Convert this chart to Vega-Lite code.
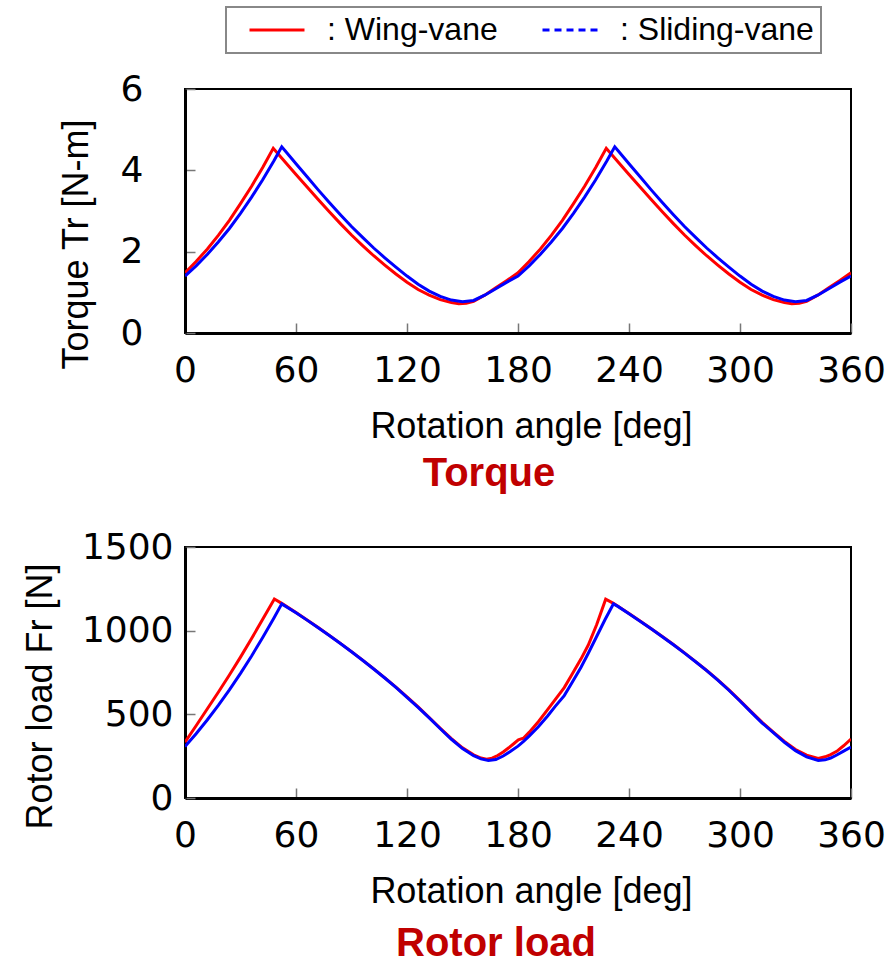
{
  "$schema": "https://vega.github.io/schema/vega-lite/v6.json",
  "background": "white",
  "padding": {"left": 21, "top": 6, "right": 5, "bottom": 2},
  "config": {
    "font": "Liberation Sans",
    "view": {"stroke": "#000", "strokeWidth": 2},
    "axis": {"domainColor": "#000", "domainWidth": 3, "tickColor": "#777", "tickWidth": 1.5, "tickSize": -10, "grid": false, "labelFlush": false,
      "labelFont": "DejaVu Sans", "labelFontSize": 36, "labelColor": "#000",
      "titleFont": "Liberation Sans", "titleFontSize": 36, "titleFontWeight": "normal", "titleColor": "#000"},
    "title": {"orient": "bottom", "color": "#C00000", "fontSize": 40, "fontWeight": "bold", "font": "Liberation Sans"}
  },
  "datasets": {
    "torque": [
      {"vane": "Wing-vane", "angle": 0, "value": 1.48}, {"vane": "Wing-vane", "angle": 6, "value": 1.76}, {"vane": "Wing-vane", "angle": 12, "value": 2.06}, {"vane": "Wing-vane", "angle": 18, "value": 2.40}, {"vane": "Wing-vane", "angle": 24, "value": 2.77}, {"vane": "Wing-vane", "angle": 30, "value": 3.18}, {"vane": "Wing-vane", "angle": 36, "value": 3.61}, {"vane": "Wing-vane", "angle": 42, "value": 4.07}, {"vane": "Wing-vane", "angle": 47.7, "value": 4.54},
      {"vane": "Wing-vane", "angle": 54, "value": 4.21}, {"vane": "Wing-vane", "angle": 60, "value": 3.90}, {"vane": "Wing-vane", "angle": 66, "value": 3.59}, {"vane": "Wing-vane", "angle": 72, "value": 3.28}, {"vane": "Wing-vane", "angle": 78, "value": 2.98}, {"vane": "Wing-vane", "angle": 84, "value": 2.69}, {"vane": "Wing-vane", "angle": 90, "value": 2.41}, {"vane": "Wing-vane", "angle": 96, "value": 2.15}, {"vane": "Wing-vane", "angle": 102, "value": 1.90}, {"vane": "Wing-vane", "angle": 108, "value": 1.67}, {"vane": "Wing-vane", "angle": 114, "value": 1.45}, {"vane": "Wing-vane", "angle": 120, "value": 1.25}, {"vane": "Wing-vane", "angle": 126, "value": 1.07}, {"vane": "Wing-vane", "angle": 132, "value": 0.93}, {"vane": "Wing-vane", "angle": 138, "value": 0.82}, {"vane": "Wing-vane", "angle": 144, "value": 0.75}, {"vane": "Wing-vane", "angle": 148, "value": 0.72}, {"vane": "Wing-vane", "angle": 152, "value": 0.73}, {"vane": "Wing-vane", "angle": 156, "value": 0.78}, {"vane": "Wing-vane", "angle": 162, "value": 0.93}, {"vane": "Wing-vane", "angle": 168, "value": 1.11}, {"vane": "Wing-vane", "angle": 174, "value": 1.29}, {"vane": "Wing-vane", "angle": 180, "value": 1.48},
      {"vane": "Wing-vane", "angle": 186, "value": 1.76}, {"vane": "Wing-vane", "angle": 192, "value": 2.06}, {"vane": "Wing-vane", "angle": 198, "value": 2.40}, {"vane": "Wing-vane", "angle": 204, "value": 2.77}, {"vane": "Wing-vane", "angle": 210, "value": 3.18}, {"vane": "Wing-vane", "angle": 216, "value": 3.61}, {"vane": "Wing-vane", "angle": 222, "value": 4.07}, {"vane": "Wing-vane", "angle": 227.7, "value": 4.54},
      {"vane": "Wing-vane", "angle": 234, "value": 4.21}, {"vane": "Wing-vane", "angle": 240, "value": 3.90}, {"vane": "Wing-vane", "angle": 246, "value": 3.59}, {"vane": "Wing-vane", "angle": 252, "value": 3.28}, {"vane": "Wing-vane", "angle": 258, "value": 2.98}, {"vane": "Wing-vane", "angle": 264, "value": 2.69}, {"vane": "Wing-vane", "angle": 270, "value": 2.41}, {"vane": "Wing-vane", "angle": 276, "value": 2.15}, {"vane": "Wing-vane", "angle": 282, "value": 1.90}, {"vane": "Wing-vane", "angle": 288, "value": 1.67}, {"vane": "Wing-vane", "angle": 294, "value": 1.45}, {"vane": "Wing-vane", "angle": 300, "value": 1.25}, {"vane": "Wing-vane", "angle": 306, "value": 1.07}, {"vane": "Wing-vane", "angle": 312, "value": 0.93}, {"vane": "Wing-vane", "angle": 318, "value": 0.82}, {"vane": "Wing-vane", "angle": 324, "value": 0.75}, {"vane": "Wing-vane", "angle": 328, "value": 0.72}, {"vane": "Wing-vane", "angle": 332, "value": 0.73}, {"vane": "Wing-vane", "angle": 336, "value": 0.78}, {"vane": "Wing-vane", "angle": 342, "value": 0.93}, {"vane": "Wing-vane", "angle": 348, "value": 1.11}, {"vane": "Wing-vane", "angle": 354, "value": 1.29}, {"vane": "Wing-vane", "angle": 360, "value": 1.48},
      {"vane": "Sliding-vane", "angle": 0, "value": 1.40}, {"vane": "Sliding-vane", "angle": 6, "value": 1.65}, {"vane": "Sliding-vane", "angle": 12, "value": 1.93}, {"vane": "Sliding-vane", "angle": 18, "value": 2.24}, {"vane": "Sliding-vane", "angle": 24, "value": 2.57}, {"vane": "Sliding-vane", "angle": 30, "value": 2.94}, {"vane": "Sliding-vane", "angle": 36, "value": 3.34}, {"vane": "Sliding-vane", "angle": 42, "value": 3.77}, {"vane": "Sliding-vane", "angle": 48, "value": 4.23}, {"vane": "Sliding-vane", "angle": 52.3, "value": 4.58},
      {"vane": "Sliding-vane", "angle": 54, "value": 4.49}, {"vane": "Sliding-vane", "angle": 60, "value": 4.16}, {"vane": "Sliding-vane", "angle": 66, "value": 3.84}, {"vane": "Sliding-vane", "angle": 72, "value": 3.52}, {"vane": "Sliding-vane", "angle": 78, "value": 3.21}, {"vane": "Sliding-vane", "angle": 84, "value": 2.91}, {"vane": "Sliding-vane", "angle": 90, "value": 2.62}, {"vane": "Sliding-vane", "angle": 96, "value": 2.35}, {"vane": "Sliding-vane", "angle": 102, "value": 2.09}, {"vane": "Sliding-vane", "angle": 108, "value": 1.85}, {"vane": "Sliding-vane", "angle": 114, "value": 1.62}, {"vane": "Sliding-vane", "angle": 120, "value": 1.40}, {"vane": "Sliding-vane", "angle": 126, "value": 1.20}, {"vane": "Sliding-vane", "angle": 132, "value": 1.03}, {"vane": "Sliding-vane", "angle": 138, "value": 0.90}, {"vane": "Sliding-vane", "angle": 144, "value": 0.81}, {"vane": "Sliding-vane", "angle": 150, "value": 0.77}, {"vane": "Sliding-vane", "angle": 156, "value": 0.80}, {"vane": "Sliding-vane", "angle": 162, "value": 0.93}, {"vane": "Sliding-vane", "angle": 168, "value": 1.09}, {"vane": "Sliding-vane", "angle": 174, "value": 1.25}, {"vane": "Sliding-vane", "angle": 180, "value": 1.40},
      {"vane": "Sliding-vane", "angle": 186, "value": 1.65}, {"vane": "Sliding-vane", "angle": 192, "value": 1.93}, {"vane": "Sliding-vane", "angle": 198, "value": 2.24}, {"vane": "Sliding-vane", "angle": 204, "value": 2.57}, {"vane": "Sliding-vane", "angle": 210, "value": 2.94}, {"vane": "Sliding-vane", "angle": 216, "value": 3.34}, {"vane": "Sliding-vane", "angle": 222, "value": 3.77}, {"vane": "Sliding-vane", "angle": 228, "value": 4.23}, {"vane": "Sliding-vane", "angle": 232.3, "value": 4.58},
      {"vane": "Sliding-vane", "angle": 234, "value": 4.49}, {"vane": "Sliding-vane", "angle": 240, "value": 4.16}, {"vane": "Sliding-vane", "angle": 246, "value": 3.84}, {"vane": "Sliding-vane", "angle": 252, "value": 3.52}, {"vane": "Sliding-vane", "angle": 258, "value": 3.21}, {"vane": "Sliding-vane", "angle": 264, "value": 2.91}, {"vane": "Sliding-vane", "angle": 270, "value": 2.62}, {"vane": "Sliding-vane", "angle": 276, "value": 2.35}, {"vane": "Sliding-vane", "angle": 282, "value": 2.09}, {"vane": "Sliding-vane", "angle": 288, "value": 1.85}, {"vane": "Sliding-vane", "angle": 294, "value": 1.62}, {"vane": "Sliding-vane", "angle": 300, "value": 1.40}, {"vane": "Sliding-vane", "angle": 306, "value": 1.20}, {"vane": "Sliding-vane", "angle": 312, "value": 1.03}, {"vane": "Sliding-vane", "angle": 318, "value": 0.90}, {"vane": "Sliding-vane", "angle": 324, "value": 0.81}, {"vane": "Sliding-vane", "angle": 330, "value": 0.77}, {"vane": "Sliding-vane", "angle": 336, "value": 0.80}, {"vane": "Sliding-vane", "angle": 342, "value": 0.93}, {"vane": "Sliding-vane", "angle": 348, "value": 1.09}, {"vane": "Sliding-vane", "angle": 354, "value": 1.25}, {"vane": "Sliding-vane", "angle": 360, "value": 1.40}
    ],
    "load": [
      {"vane": "Wing-vane", "angle": 0, "value": 333}, {"vane": "Wing-vane", "angle": 6, "value": 432}, {"vane": "Wing-vane", "angle": 12, "value": 532}, {"vane": "Wing-vane", "angle": 18, "value": 632}, {"vane": "Wing-vane", "angle": 24, "value": 735}, {"vane": "Wing-vane", "angle": 30, "value": 842}, {"vane": "Wing-vane", "angle": 36, "value": 953}, {"vane": "Wing-vane", "angle": 42, "value": 1068}, {"vane": "Wing-vane", "angle": 48.3, "value": 1189},
      {"vane": "Wing-vane", "angle": 52.3, "value": 1163}, {"vane": "Wing-vane", "angle": 60, "value": 1108}, {"vane": "Wing-vane", "angle": 66, "value": 1064}, {"vane": "Wing-vane", "angle": 72, "value": 1019}, {"vane": "Wing-vane", "angle": 78, "value": 972}, {"vane": "Wing-vane", "angle": 84, "value": 924}, {"vane": "Wing-vane", "angle": 90, "value": 875}, {"vane": "Wing-vane", "angle": 96, "value": 824}, {"vane": "Wing-vane", "angle": 102, "value": 772}, {"vane": "Wing-vane", "angle": 108, "value": 718}, {"vane": "Wing-vane", "angle": 114, "value": 662}, {"vane": "Wing-vane", "angle": 120, "value": 604}, {"vane": "Wing-vane", "angle": 126, "value": 544}, {"vane": "Wing-vane", "angle": 132, "value": 481}, {"vane": "Wing-vane", "angle": 138, "value": 417}, {"vane": "Wing-vane", "angle": 144, "value": 355}, {"vane": "Wing-vane", "angle": 150, "value": 300}, {"vane": "Wing-vane", "angle": 156, "value": 258}, {"vane": "Wing-vane", "angle": 160, "value": 239}, {"vane": "Wing-vane", "angle": 163, "value": 232}, {"vane": "Wing-vane", "angle": 166, "value": 238}, {"vane": "Wing-vane", "angle": 169, "value": 254}, {"vane": "Wing-vane", "angle": 172, "value": 275}, {"vane": "Wing-vane", "angle": 175, "value": 300}, {"vane": "Wing-vane", "angle": 178, "value": 327}, {"vane": "Wing-vane", "angle": 180.2, "value": 347}, {"vane": "Wing-vane", "angle": 182.9, "value": 357},
      {"vane": "Wing-vane", "angle": 186, "value": 392}, {"vane": "Wing-vane", "angle": 191, "value": 456}, {"vane": "Wing-vane", "angle": 196, "value": 528}, {"vane": "Wing-vane", "angle": 200, "value": 586}, {"vane": "Wing-vane", "angle": 205, "value": 660}, {"vane": "Wing-vane", "angle": 209, "value": 735}, {"vane": "Wing-vane", "angle": 214, "value": 830}, {"vane": "Wing-vane", "angle": 218, "value": 914}, {"vane": "Wing-vane", "angle": 222.5, "value": 1035}, {"vane": "Wing-vane", "angle": 227.4, "value": 1188},
      {"vane": "Wing-vane", "angle": 231.6, "value": 1163}, {"vane": "Wing-vane", "angle": 234, "value": 1146}, {"vane": "Wing-vane", "angle": 240, "value": 1102}, {"vane": "Wing-vane", "angle": 246, "value": 1058}, {"vane": "Wing-vane", "angle": 252, "value": 1012}, {"vane": "Wing-vane", "angle": 258, "value": 965}, {"vane": "Wing-vane", "angle": 264, "value": 917}, {"vane": "Wing-vane", "angle": 270, "value": 867}, {"vane": "Wing-vane", "angle": 276, "value": 815}, {"vane": "Wing-vane", "angle": 282, "value": 762}, {"vane": "Wing-vane", "angle": 288, "value": 706}, {"vane": "Wing-vane", "angle": 294, "value": 646}, {"vane": "Wing-vane", "angle": 300, "value": 582}, {"vane": "Wing-vane", "angle": 306, "value": 516}, {"vane": "Wing-vane", "angle": 312, "value": 452}, {"vane": "Wing-vane", "angle": 318, "value": 394}, {"vane": "Wing-vane", "angle": 324, "value": 338}, {"vane": "Wing-vane", "angle": 330, "value": 290}, {"vane": "Wing-vane", "angle": 336, "value": 256}, {"vane": "Wing-vane", "angle": 342.3, "value": 237}, {"vane": "Wing-vane", "angle": 346, "value": 246}, {"vane": "Wing-vane", "angle": 349, "value": 259}, {"vane": "Wing-vane", "angle": 352.3, "value": 279}, {"vane": "Wing-vane", "angle": 356, "value": 312}, {"vane": "Wing-vane", "angle": 360, "value": 352},
      {"vane": "Sliding-vane", "angle": 0, "value": 307}, {"vane": "Sliding-vane", "angle": 6, "value": 384}, {"vane": "Sliding-vane", "angle": 12, "value": 466}, {"vane": "Sliding-vane", "angle": 18, "value": 553}, {"vane": "Sliding-vane", "angle": 24, "value": 646}, {"vane": "Sliding-vane", "angle": 30, "value": 745}, {"vane": "Sliding-vane", "angle": 36, "value": 849}, {"vane": "Sliding-vane", "angle": 42, "value": 959}, {"vane": "Sliding-vane", "angle": 48, "value": 1074}, {"vane": "Sliding-vane", "angle": 52.3, "value": 1160},
      {"vane": "Sliding-vane", "angle": 60, "value": 1107}, {"vane": "Sliding-vane", "angle": 66, "value": 1063}, {"vane": "Sliding-vane", "angle": 72, "value": 1018}, {"vane": "Sliding-vane", "angle": 78, "value": 971}, {"vane": "Sliding-vane", "angle": 84, "value": 923}, {"vane": "Sliding-vane", "angle": 90, "value": 874}, {"vane": "Sliding-vane", "angle": 96, "value": 823}, {"vane": "Sliding-vane", "angle": 102, "value": 771}, {"vane": "Sliding-vane", "angle": 108, "value": 717}, {"vane": "Sliding-vane", "angle": 114, "value": 661}, {"vane": "Sliding-vane", "angle": 120, "value": 602}, {"vane": "Sliding-vane", "angle": 126, "value": 542}, {"vane": "Sliding-vane", "angle": 132, "value": 479}, {"vane": "Sliding-vane", "angle": 138, "value": 414}, {"vane": "Sliding-vane", "angle": 144, "value": 351}, {"vane": "Sliding-vane", "angle": 150, "value": 295}, {"vane": "Sliding-vane", "angle": 156, "value": 253}, {"vane": "Sliding-vane", "angle": 160, "value": 234}, {"vane": "Sliding-vane", "angle": 164, "value": 224}, {"vane": "Sliding-vane", "angle": 168, "value": 230}, {"vane": "Sliding-vane", "angle": 172, "value": 251}, {"vane": "Sliding-vane", "angle": 176, "value": 279}, {"vane": "Sliding-vane", "angle": 180, "value": 310},
      {"vane": "Sliding-vane", "angle": 183, "value": 338}, {"vane": "Sliding-vane", "angle": 186, "value": 370}, {"vane": "Sliding-vane", "angle": 191, "value": 426}, {"vane": "Sliding-vane", "angle": 196, "value": 490}, {"vane": "Sliding-vane", "angle": 200, "value": 546}, {"vane": "Sliding-vane", "angle": 205, "value": 612}, {"vane": "Sliding-vane", "angle": 209, "value": 686}, {"vane": "Sliding-vane", "angle": 214, "value": 780}, {"vane": "Sliding-vane", "angle": 218, "value": 865}, {"vane": "Sliding-vane", "angle": 222.5, "value": 965}, {"vane": "Sliding-vane", "angle": 227, "value": 1065}, {"vane": "Sliding-vane", "angle": 231.6, "value": 1160},
      {"vane": "Sliding-vane", "angle": 234, "value": 1145}, {"vane": "Sliding-vane", "angle": 240, "value": 1101}, {"vane": "Sliding-vane", "angle": 246, "value": 1057}, {"vane": "Sliding-vane", "angle": 252, "value": 1011}, {"vane": "Sliding-vane", "angle": 258, "value": 964}, {"vane": "Sliding-vane", "angle": 264, "value": 916}, {"vane": "Sliding-vane", "angle": 270, "value": 866}, {"vane": "Sliding-vane", "angle": 276, "value": 814}, {"vane": "Sliding-vane", "angle": 282, "value": 761}, {"vane": "Sliding-vane", "angle": 288, "value": 704}, {"vane": "Sliding-vane", "angle": 294, "value": 644}, {"vane": "Sliding-vane", "angle": 300, "value": 580}, {"vane": "Sliding-vane", "angle": 306, "value": 513}, {"vane": "Sliding-vane", "angle": 312, "value": 448}, {"vane": "Sliding-vane", "angle": 318, "value": 390}, {"vane": "Sliding-vane", "angle": 324, "value": 333}, {"vane": "Sliding-vane", "angle": 330, "value": 283}, {"vane": "Sliding-vane", "angle": 336, "value": 246}, {"vane": "Sliding-vane", "angle": 342.3, "value": 224}, {"vane": "Sliding-vane", "angle": 346, "value": 228}, {"vane": "Sliding-vane", "angle": 349, "value": 239}, {"vane": "Sliding-vane", "angle": 352.3, "value": 257}, {"vane": "Sliding-vane", "angle": 356, "value": 280}, {"vane": "Sliding-vane", "angle": 360, "value": 305}
    ]
  },
  "spacing": 33,
  "vconcat": [
    {
      "width": 666,
      "height": 244,
      "title": {"text": "Torque", "dx": -29, "offset": 10},
      "data": {"name": "torque"},
      "encoding": {
        "x": {"field": "angle", "type": "quantitative", "scale": {"domain": [0, 360], "nice": false},
          "axis": {"values": [0, 60, 120, 180, 240, 300, 360], "title": "Rotation angle [deg]", "labelPadding": 30, "titlePadding": 21, "titleX": 346}},
        "y": {"field": "value", "type": "quantitative", "scale": {"domain": [0, 6], "nice": false},
          "axis": {"values": [0, 2, 4, 6], "title": "Torque Tr [N-m]", "labelPadding": 52, "titlePadding": 25, "titleY": 155}},
        "color": {"field": "vane", "type": "nominal",
          "scale": {"domain": ["Wing-vane", "Sliding-vane"], "range": ["#FF0000", "#0000FF"]},
          "legend": {"title": null, "orient": "none", "legendX": 41, "legendY": -82, "direction": "horizontal", "columns": 2, "gridAlign": "all",
            "symbolType": "M-2.5,0H2.5", "symbolSize": 484, "symbolStrokeWidth": 3, "symbolOffset": 28,
            "labelFont": "Liberation Sans", "labelFontSize": 32, "labelColor": "#000", "labelLimit": 400, "labelExpr": "': ' + datum.label", "labelOffset": 34, "columnPadding": 5,
            "padding": 7, "strokeColor": "#888",
            "encode": {"symbols": {"update": {"strokeDash": {"signal": "datum.value === 'Sliding-vane' ? [7, 5] : [1, 0]"}}}, "legend": {"update": {"strokeWidth": {"value": 2}}}}}
        }
      },
      "layer": [
        {"transform": [{"filter": "datum.vane === 'Wing-vane'"}], "mark": {"type": "line", "strokeWidth": 3, "clip": true}},
        {"transform": [{"filter": "datum.vane === 'Sliding-vane'"}], "mark": {"type": "line", "strokeWidth": 3, "clip": true}}
      ]
    },
    {
      "width": 666,
      "height": 251,
      "title": {"text": "Rotor load", "dx": -22, "offset": 15},
      "data": {"name": "load"},
      "encoding": {
        "x": {"field": "angle", "type": "quantitative", "scale": {"domain": [0, 360], "nice": false},
          "axis": {"values": [0, 60, 120, 180, 240, 300, 360], "title": "Rotation angle [deg]", "labelPadding": 30, "titlePadding": 21, "titleX": 346}},
        "y": {"field": "value", "type": "quantitative", "scale": {"domain": [0, 1500], "nice": false},
          "axis": {"values": [0, 500, 1000, 1500], "format": "d", "title": "Rotor load Fr [N]", "labelPadding": 22, "titlePadding": 22, "titleY": 149}},
        "color": {"field": "vane", "type": "nominal",
          "scale": {"domain": ["Wing-vane", "Sliding-vane"], "range": ["#FF0000", "#0000FF"]}}
      },
      "layer": [
        {"transform": [{"filter": "datum.vane === 'Wing-vane'"}], "mark": {"type": "line", "strokeWidth": 3, "clip": true}},
        {"transform": [{"filter": "datum.vane === 'Sliding-vane'"}], "mark": {"type": "line", "strokeWidth": 3, "clip": true}}
      ]
    }
  ]
}
